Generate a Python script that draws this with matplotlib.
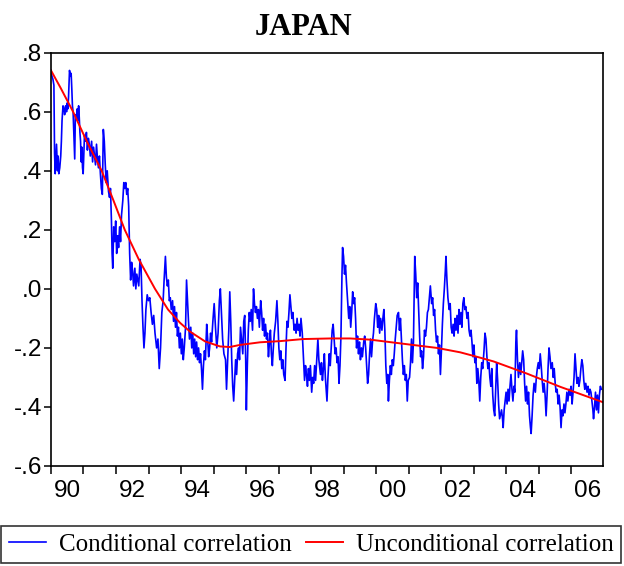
import matplotlib
matplotlib.use('Agg')
import matplotlib.pyplot as plt
from matplotlib.ticker import FixedLocator, FixedFormatter, NullFormatter

# ── data (decimal years, correlation) ────────────────────────────
cond_dates = [
    1990.00, 1990.03, 1990.06, 1990.09, 1990.11, 1990.13, 1990.17, 1990.20, 1990.22, 1990.24,
    1990.27, 1990.30, 1990.32, 1990.34, 1990.37, 1990.40, 1990.42, 1990.45, 1990.48, 1990.50,
    1990.52, 1990.54, 1990.57, 1990.60, 1990.62, 1990.64, 1990.66, 1990.68, 1990.73, 1990.75,
    1990.78, 1990.81, 1990.83, 1990.85, 1990.87, 1990.89, 1990.91, 1990.93, 1990.95, 1990.97,
    1990.99, 1991.01, 1991.03, 1991.06, 1991.09, 1991.12, 1991.15, 1991.18, 1991.21, 1991.25,
    1991.28, 1991.31, 1991.34, 1991.37, 1991.40, 1991.43, 1991.46, 1991.49, 1991.52, 1991.55,
    1991.58, 1991.61, 1991.64, 1991.67, 1991.70, 1991.73, 1991.77, 1991.80, 1991.83, 1991.86,
    1991.88, 1991.90, 1991.93, 1991.96, 1991.99, 1992.02, 1992.05, 1992.08, 1992.11, 1992.14,
    1992.17, 1992.21, 1992.24, 1992.27, 1992.30, 1992.33, 1992.36, 1992.39, 1992.42, 1992.45,
    1992.48, 1992.51, 1992.54, 1992.58, 1992.61, 1992.64,
    1992.70, 1992.74, 1992.77, 1992.80, 1992.83, 1992.86, 1992.89, 1992.92, 1992.96, 1993.00,
    1993.04, 1993.08, 1993.12, 1993.16, 1993.20, 1993.25, 1993.29, 1993.33, 1993.37, 1993.41,
    1993.45, 1993.48, 1993.52, 1993.55, 1993.58, 1993.61, 1993.64, 1993.67, 1993.70, 1993.74,
    1993.77, 1993.80, 1993.83, 1993.86, 1993.89, 1993.92, 1993.95, 1993.98, 1994.01, 1994.04,
    1994.07, 1994.10, 1994.14, 1994.17, 1994.20, 1994.23, 1994.26, 1994.30, 1994.33, 1994.36,
    1994.39, 1994.42, 1994.45, 1994.48, 1994.51, 1994.54, 1994.57, 1994.60, 1994.63, 1994.66,
    1994.69, 1994.72, 1994.75, 1994.79, 1994.82, 1994.85, 1994.88, 1994.91, 1994.94, 1994.98,
    1995.02, 1995.06, 1995.10, 1995.14, 1995.18, 1995.21, 1995.24, 1995.28, 1995.32, 1995.37,
    1995.40,
    1995.47, 1995.50, 1995.53, 1995.56, 1995.59, 1995.62, 1995.65, 1995.68, 1995.71, 1995.74,
    1995.77, 1995.80, 1995.83, 1995.86, 1995.90, 1995.93, 1995.96, 1995.99, 1996.01, 1996.04,
    1996.07, 1996.10, 1996.13, 1996.16, 1996.20, 1996.23, 1996.26, 1996.29, 1996.32, 1996.35,
    1996.38, 1996.41, 1996.45, 1996.48, 1996.51, 1996.54, 1996.57, 1996.60, 1996.63, 1996.66,
    1996.69, 1996.72, 1996.75, 1996.78, 1996.81, 1996.84, 1996.87, 1996.91, 1996.95, 1996.98,
    1997.01, 1997.04, 1997.07, 1997.10, 1997.13, 1997.16, 1997.20, 1997.23, 1997.26, 1997.29,
    1997.32, 1997.35, 1997.38, 1997.41, 1997.44, 1997.48, 1997.51, 1997.54, 1997.57, 1997.60,
    1997.63, 1997.66, 1997.69, 1997.73, 1997.77, 1997.80, 1997.83, 1997.86, 1997.89, 1997.92,
    1997.95, 1997.98, 1998.02, 1998.05, 1998.08, 1998.11, 1998.14, 1998.17, 1998.21, 1998.24,
    1998.29, 1998.32, 1998.35, 1998.38, 1998.41, 1998.44, 1998.47, 1998.49, 1998.52, 1998.56,
    1998.59, 1998.62, 1998.65, 1998.68, 1998.71, 1998.74, 1998.77, 1998.80, 1998.83, 1998.86,
    1998.89, 1998.92, 1998.95, 1998.97, 1999.00, 1999.03, 1999.06, 1999.09, 1999.13, 1999.16,
    1999.19, 1999.22, 1999.25, 1999.28, 1999.31, 1999.34, 1999.37, 1999.40, 1999.43, 1999.46,
    1999.49, 1999.52, 1999.55, 1999.58, 1999.62, 1999.65, 1999.68, 1999.71, 1999.74, 1999.77,
    1999.80, 1999.83, 1999.86, 1999.89, 1999.92, 1999.95, 1999.99, 2000.02, 2000.05, 2000.08,
    2000.11, 2000.14, 2000.18, 2000.21, 2000.24, 2000.27, 2000.30, 2000.33, 2000.36, 2000.38,
    2000.41, 2000.44, 2000.47, 2000.50, 2000.53, 2000.56, 2000.59, 2000.62, 2000.65, 2000.69,
    2000.72, 2000.75, 2000.78, 2000.81, 2000.84, 2000.87, 2000.90, 2000.93, 2000.96, 2000.99,
    2001.03, 2001.06, 2001.09, 2001.12, 2001.15, 2001.19, 2001.22, 2001.25, 2001.28, 2001.31,
    2001.34, 2001.37, 2001.40, 2001.43, 2001.46, 2001.49, 2001.52, 2001.55, 2001.58, 2001.61,
    2001.64, 2001.67, 2001.71, 2001.74, 2001.77, 2001.80, 2001.83, 2001.86, 2001.89, 2001.92,
    2001.95, 2001.98, 2002.01, 2002.04, 2002.07, 2002.10, 2002.13, 2002.15, 2002.18, 2002.21,
    2002.25, 2002.28, 2002.31, 2002.34, 2002.37, 2002.40, 2002.43, 2002.46, 2002.49, 2002.52,
    2002.55, 2002.58, 2002.61, 2002.64, 2002.67, 2002.70, 2002.73, 2002.76, 2002.80, 2002.83,
    2002.86, 2002.89, 2002.92, 2002.95, 2002.98, 2003.01, 2003.04, 2003.07, 2003.10, 2003.13,
    2003.16, 2003.19, 2003.22, 2003.25, 2003.28, 2003.32, 2003.35, 2003.38, 2003.41, 2003.44,
    2003.47, 2003.50, 2003.53, 2003.56, 2003.59, 2003.62, 2003.65, 2003.68, 2003.71, 2003.74,
    2003.77, 2003.80,
    2003.86, 2003.89, 2003.91, 2003.94, 2003.97, 2004.00, 2004.03, 2004.06, 2004.09, 2004.12,
    2004.15, 2004.18, 2004.21, 2004.24, 2004.27, 2004.30, 2004.32, 2004.35, 2004.38, 2004.42,
    2004.45, 2004.48, 2004.51, 2004.54, 2004.57, 2004.60, 2004.63, 2004.66, 2004.69, 2004.72,
    2004.75, 2004.77, 2004.80, 2004.83, 2004.86, 2004.90, 2004.93, 2004.96, 2004.99, 2005.02,
    2005.05, 2005.08, 2005.11, 2005.14, 2005.17, 2005.20, 2005.23, 2005.26, 2005.29, 2005.32,
    2005.35, 2005.38, 2005.42, 2005.45, 2005.48, 2005.51, 2005.54, 2005.57, 2005.60, 2005.63,
    2005.66, 2005.69, 2005.72, 2005.75, 2005.78, 2005.81, 2005.84, 2005.87, 2005.90, 2005.94,
    2005.97, 2006.00, 2006.03, 2006.06, 2006.09, 2006.12, 2006.15, 2006.18, 2006.21, 2006.24,
    2006.27, 2006.30, 2006.33, 2006.36, 2006.39, 2006.42, 2006.45, 2006.49, 2006.52, 2006.55,
    2006.58, 2006.61, 2006.64, 2006.67, 2006.69, 2006.72, 2006.75, 2006.78, 2006.81, 2006.84,
    2006.87, 2006.90, 2006.93,
]
cond_vals = [
    0.74, 0.72, 0.71, 0.69, 0.46, 0.39, 0.49, 0.40, 0.45, 0.39,
    0.41, 0.45, 0.50, 0.57, 0.62, 0.61, 0.59, 0.62, 0.60, 0.63,
    0.61, 0.65, 0.74, 0.72, 0.73, 0.68, 0.62, 0.60, 0.44, 0.59,
    0.58, 0.61, 0.57, 0.62, 0.58, 0.53, 0.50, 0.43, 0.48, 0.41,
    0.39, 0.45, 0.52, 0.50, 0.53, 0.47, 0.51, 0.49, 0.45, 0.50,
    0.43, 0.48, 0.45, 0.42, 0.49, 0.44, 0.41, 0.45, 0.39, 0.34,
    0.32, 0.54, 0.50, 0.42, 0.36, 0.40, 0.33, 0.31, 0.34, 0.23,
    0.12, 0.07, 0.21, 0.16, 0.23, 0.12, 0.18, 0.14, 0.21, 0.16,
    0.25, 0.30, 0.36, 0.34, 0.36, 0.32, 0.34, 0.28, 0.12, 0.03,
    0.09, 0.06, 0.01, 0.07, 0.00, 0.05,
    0.01, 0.10, 0.08, -0.04, -0.13, -0.20, -0.15, -0.07, -0.02, -0.04,
    -0.03, -0.08, -0.12, -0.09, -0.15, -0.20, -0.17, -0.27, -0.20, -0.08,
    -0.04, 0.03, 0.11, 0.04, 0.01, 0.03, -0.04, -0.03, -0.07, -0.04,
    -0.11, -0.06, -0.13, -0.08, -0.16, -0.13, -0.20, -0.15, -0.22, -0.17,
    -0.24, -0.20, -0.13, 0.03, -0.04, -0.11, -0.17, -0.13, -0.20, -0.15,
    -0.22, -0.17, -0.23, -0.18, -0.24, -0.20, -0.25, -0.22, -0.27, -0.34,
    -0.26, -0.21, -0.24, -0.12, -0.17, -0.23, -0.20, -0.15, -0.18, -0.11,
    -0.05, -0.13, -0.20, -0.15, -0.04, -0.00, -0.07, -0.17, -0.22, -0.24,
    -0.34,
    -0.14, -0.01, -0.11, -0.24, -0.33, -0.38, -0.31, -0.24, -0.29, -0.22,
    -0.20, -0.24, -0.13, -0.17, -0.22, -0.11, -0.09, -0.24, -0.41, -0.26,
    -0.14, -0.08, -0.11, -0.07, -0.14, 0.00, -0.05, -0.08, -0.06, -0.10,
    -0.07, -0.13, -0.04, -0.08, -0.14, -0.10, -0.16, -0.12, -0.17, -0.15,
    -0.23, -0.18, -0.14, -0.22, -0.26, -0.20, -0.15, -0.11, -0.04, -0.11,
    -0.20, -0.24, -0.21, -0.27, -0.24, -0.29, -0.31, -0.20, -0.11, -0.13,
    -0.08, -0.02, -0.06, -0.10, -0.08, -0.14, -0.12, -0.15, -0.10, -0.14,
    -0.12, -0.16, -0.10, -0.15, -0.24, -0.31, -0.26, -0.29, -0.33, -0.27,
    -0.31, -0.26, -0.35, -0.30, -0.32, -0.26, -0.31, -0.25, -0.17, -0.24,
    -0.29, -0.25, -0.31, -0.27, -0.22, -0.30, -0.35, -0.38, -0.30, -0.22,
    -0.26, -0.20, -0.14, -0.12, -0.17, -0.22, -0.20, -0.25, -0.23, -0.32,
    -0.26, -0.16, 0.04, 0.14, 0.11, 0.05, 0.08, 0.02, -0.05, -0.10,
    -0.06, -0.13, -0.08, -0.01, -0.05, -0.03, -0.10, -0.20, -0.16, -0.22,
    -0.18, -0.24, -0.20, -0.23, -0.18, -0.16, -0.20, -0.26, -0.32, -0.29,
    -0.22, -0.17, -0.23, -0.18, -0.15, -0.10, -0.05, -0.07, -0.13, -0.09,
    -0.15, -0.10, -0.14, -0.10, -0.07, -0.14, -0.26, -0.32, -0.29, -0.38,
    -0.31, -0.26, -0.29, -0.24, -0.26, -0.22, -0.17, -0.13, -0.09, -0.08,
    -0.14, -0.10, -0.17, -0.24, -0.29, -0.26, -0.31, -0.29, -0.38, -0.31,
    -0.30, -0.25, -0.17, -0.25, -0.18, 0.11, 0.05, -0.03, 0.02, -0.07,
    -0.16, -0.23, -0.21, -0.27, -0.23, -0.14, -0.16, -0.13, -0.08, -0.07,
    -0.03, 0.01, -0.05, -0.03, -0.09, -0.07, -0.14, -0.18, -0.16, -0.22,
    -0.19, -0.29, -0.21, -0.12, -0.05, -0.00, 0.06, 0.11, 0.03, -0.03,
    -0.07, -0.05, -0.13, -0.15, -0.12, -0.16, -0.10, -0.14, -0.09, -0.15,
    -0.07, -0.12, -0.08, -0.13, -0.05, -0.03, -0.07, -0.06, -0.10, -0.08,
    -0.14, -0.16, -0.14, -0.18, -0.23, -0.19, -0.25, -0.23, -0.32, -0.27,
    -0.31, -0.38, -0.30, -0.25, -0.27, -0.21, -0.15, -0.17, -0.23, -0.27,
    -0.25, -0.30, -0.33, -0.27, -0.36, -0.41, -0.43, -0.34, -0.25, -0.31,
    -0.39, -0.44,
    -0.41, -0.44, -0.47, -0.41, -0.38, -0.35, -0.39, -0.34, -0.38, -0.33,
    -0.29, -0.34, -0.38, -0.33, -0.35, -0.18, -0.14, -0.24, -0.30, -0.25,
    -0.29, -0.25, -0.21, -0.24, -0.32, -0.38, -0.33, -0.39, -0.35, -0.43,
    -0.47, -0.49, -0.43, -0.36, -0.32, -0.35, -0.30, -0.27, -0.25, -0.27,
    -0.22, -0.26, -0.31, -0.35, -0.32, -0.36, -0.43, -0.36, -0.27, -0.20,
    -0.23, -0.27, -0.25, -0.30, -0.27, -0.32, -0.35, -0.34, -0.39, -0.36,
    -0.40, -0.47, -0.41, -0.43, -0.39, -0.42, -0.39, -0.35, -0.38, -0.34,
    -0.36, -0.33, -0.39, -0.35, -0.30, -0.22, -0.27, -0.32, -0.30, -0.33,
    -0.31, -0.27, -0.24, -0.26, -0.31, -0.34, -0.32, -0.35, -0.33, -0.36,
    -0.34, -0.35, -0.38, -0.41, -0.44, -0.40, -0.35, -0.41, -0.36, -0.42,
    -0.36, -0.33, -0.34,
]

uncond_dates = [1990.00, 1990.30, 1990.68, 1991.10, 1991.56, 1991.92, 1992.27, 1992.70,
                1993.20, 1993.60, 1993.97, 1994.28, 1994.74, 1995.20, 1995.50, 1995.81,
                1996.43, 1997.05, 1997.76, 1998.59, 1999.20, 1999.82, 2000.84, 2001.87,
                2002.59, 2003.10, 2003.62, 2004.64, 2005.67, 2006.98]
uncond_vals = [0.74, 0.68, 0.60, 0.50, 0.40, 0.30, 0.20, 0.10,
               0.00, -0.07, -0.115, -0.145, -0.178, -0.195, -0.197, -0.19,
               -0.181, -0.177, -0.170, -0.168, -0.168, -0.172, -0.186, -0.200,
               -0.215, -0.23, -0.246, -0.287, -0.332, -0.384]

year_ticks = list(range(1990, 2007))
label_years = [1990, 1992, 1994, 1996, 1998, 2000, 2002, 2004, 2006]
label_text = ['90', '92', '94', '96', '98', '00', '02', '04', '06']
y_ticks = [-0.6, -0.4, -0.2, 0.0, 0.2, 0.4, 0.6, 0.8]
y_labels = ['-.6', '-.4', '-.2', '.0', '.2', '.4', '.6', '.8']

plt.rcParams['font.family'] = ['Liberation Sans', 'DejaVu Sans']

fig = plt.figure(figsize=(6.24, 5.66), dpi=100)
ax = fig.add_axes([0.0817, 0.1767, 0.8846, 0.7302])

l1, = ax.plot(cond_dates, cond_vals, color='#0000ff', lw=1.2)
l2, = ax.plot(uncond_dates, uncond_vals, color='#ff0000', lw=1.4)

ax.set_xlim(1990, 2006.98)
ax.set_ylim(-0.6, 0.8)

# year ticks unlabeled, labels centred inside every other year
ax.xaxis.set_major_locator(FixedLocator(year_ticks))
ax.xaxis.set_major_formatter(NullFormatter())
ax.xaxis.set_minor_locator(FixedLocator([y + 0.5 for y in label_years]))
ax.xaxis.set_minor_formatter(FixedFormatter(label_text))
ax.tick_params(axis='x', which='major', direction='out', length=6, width=1.1)
ax.tick_params(axis='x', which='minor', length=0, pad=10, labelsize=17.5)

ax.set_yticks(y_ticks)
ax.set_yticklabels(y_labels)
ax.tick_params(axis='y', direction='out', length=5, width=1.1, pad=1.5, labelsize=17.5)

for s in ax.spines.values():
    s.set_linewidth(1.2)

fig.text(0.487, 0.938, 'JAPAN', ha='center', va='baseline', fontsize=22,
         fontweight='bold', family='Liberation Serif')

leg = fig.legend([l1, l2], ['Conditional correlation', 'Unconditional correlation'],
                 loc='lower left', bbox_to_anchor=(0.002, 0.005, 0.993, 0.066),
                 mode='expand', ncol=2, frameon=True, fancybox=False,
                 edgecolor='black', borderaxespad=0, borderpad=0.3,
                 handlelength=1.5, handletextpad=0.5, columnspacing=0.5,
                 prop={'family': 'Liberation Serif', 'size': 18})
leg.get_frame().set_linewidth(1.2)

fig.savefig('out.png', dpi=100)
